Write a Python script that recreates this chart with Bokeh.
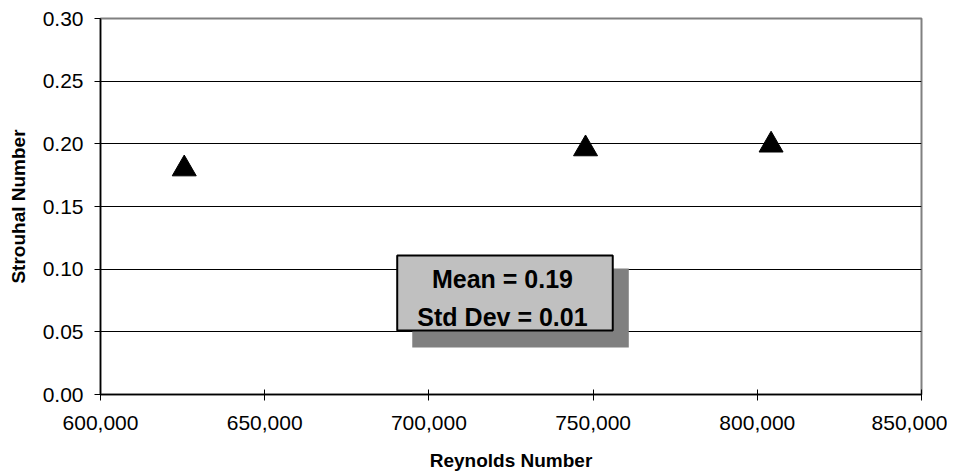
import numpy as np
from bokeh.plotting import figure
from bokeh.models import (ColumnDataSource, NumeralTickFormatter, FixedTicker,
                          Range1d, BoxAnnotation, Label)
from bokeh.embed import file_html
from bokeh.resources import INLINE

# ---- data ----
reynolds = [625500, 747700, 804200]
strouhal = [0.180, 0.196, 0.199]
x_ticks = [600000, 650000, 700000, 750000, 800000, 850000]
y_ticks = [0.00, 0.05, 0.10, 0.15, 0.20, 0.25, 0.30]

mean_val = float(np.mean(strouhal))
std_val = float(np.std(strouhal, ddof=1))

# annotation box (data coords)
box_left, box_right, box_top, box_bottom = 690354, 755983, 0.1109, 0.0511
sh_left, sh_right, sh_top, sh_bottom = 694933, 760867, 0.1005, 0.0375
text_x = 722405
text_y1, text_y2 = 0.0918, 0.0622

FONT = "Liberation Sans"

p = figure(width=947, height=476, output_backend="svg", toolbar_location=None,
           x_range=Range1d(600000, 850000), y_range=Range1d(0, 0.30),
           min_border_left=100, min_border_right=26, min_border_top=18,
           min_border_bottom=82)

p.outline_line_color = "#808080"
p.outline_line_width = 2
p.background_fill_color = "white"
p.border_fill_color = "white"

p.xgrid.visible = False
p.ygrid.grid_line_color = "black"
p.ygrid.grid_line_width = 1
p.ygrid.ticker = FixedTicker(ticks=y_ticks)

p.xaxis.ticker = FixedTicker(ticks=x_ticks)
p.yaxis.ticker = FixedTicker(ticks=y_ticks)
p.xaxis.formatter = NumeralTickFormatter(format="0,0")
p.yaxis.formatter = NumeralTickFormatter(format="0.00")

for ax in (p.xaxis[0], p.yaxis[0]):
    ax.axis_line_color = "#000000"
    ax.axis_line_width = 1.5
    ax.major_tick_line_color = "#000000"
    ax.major_tick_line_width = 1
    ax.minor_tick_line_color = None
    ax.major_label_text_font = FONT
    ax.major_label_text_font_size = "21px"
    ax.major_label_text_color = "black"
    ax.axis_label_text_font = FONT
    ax.axis_label_text_font_size = "19px"
    ax.axis_label_text_font_style = "bold"
    ax.axis_label_text_color = "black"

p.xaxis.major_tick_in = 5
p.xaxis.major_tick_out = 6
p.yaxis.major_tick_in = 0
p.yaxis.major_tick_out = 6
p.xaxis.major_label_standoff = 15
p.yaxis.major_label_standoff = 11
p.xaxis.axis_label = "Reynolds Number"
p.yaxis.axis_label = "Strouhal Number"
p.xaxis.axis_label_standoff = 17
p.yaxis.axis_label_standoff = 11

src = ColumnDataSource(dict(x=reynolds, y=strouhal))
p.scatter("x", "y", source=src, marker="triangle", size=24,
          fill_color="black", line_color="black")

# shadow and box
p.add_layout(BoxAnnotation(left=sh_left, right=sh_right, top=sh_top, bottom=sh_bottom,
                           fill_color="#808080", fill_alpha=1, line_color=None))
p.add_layout(BoxAnnotation(left=box_left, right=box_right, top=box_top, bottom=box_bottom,
                           fill_color="#C0C0C0", fill_alpha=1, line_color="black",
                           line_alpha=1, line_width=2))

p.add_layout(Label(x=text_x, y=text_y1, text=f"Mean = {mean_val:.2f}",
                   text_align="center", text_baseline="alphabetic",
                   text_font=FONT, text_font_size="25px", text_font_style="bold",
                   text_color="black"))
p.add_layout(Label(x=text_x, y=text_y2, text=f"Std Dev = {std_val:.2f}",
                   text_align="center", text_baseline="alphabetic",
                   text_font=FONT, text_font_size="25px", text_font_style="bold",
                   text_color="black"))

open("out.html", "w").write(file_html(p, INLINE))
